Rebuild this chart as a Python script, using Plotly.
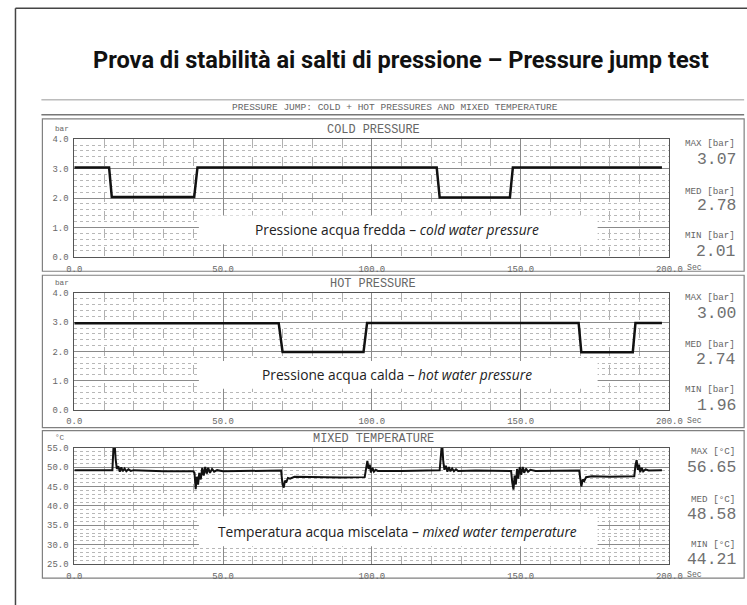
import plotly.graph_objects as go

W, H = 747, 605

# ---------------- data ----------------
time_cold = [0, 11.7, 12.6, 40.3, 41.4, 121.8, 122.8, 146.4, 147.4, 197.5]
cold_bar = [3.04, 3.04, 2.03, 2.03, 3.04, 3.04, 2.02, 2.02, 3.04, 3.04]

time_hot = [0, 68.7, 70.0, 97.2, 98.4, 169.5, 170.4, 187.7, 188.6, 197.5]
hot_bar = [2.97, 2.97, 1.98, 1.98, 2.98, 2.98, 1.97, 1.97, 2.98, 2.98]

time_mix = [0, 12.8, 13.2, 13.5, 13.9, 14.3, 14.8, 15.3, 15.8, 16.3, 16.9, 17.5, 18.2, 19, 20, 25, 30,
            40, 40.4, 40.8, 41.2, 41.6, 42, 42.5, 43, 43.5, 44, 44.5, 45, 45.6, 46.3, 47, 48, 50, 60,
            69.5, 70, 70.4, 70.8, 71.2, 71.8, 72.5, 74, 80, 90,
            97.6, 98.1, 98.5, 98.9, 99.3, 99.7, 100.2, 100.7, 101.3, 102, 110,
            122.8, 123.2, 123.6, 124, 124.4, 124.9, 125.4, 125.9, 126.4, 127, 127.6, 128.3, 129, 135,
            146.8, 147.2, 147.6, 148, 148.4, 148.8, 149.2, 149.7, 150.2, 150.7, 151.2, 151.8, 152.5, 153.3, 155,
            169.7, 170.1, 170.4, 170.9, 171.4, 172, 174, 180,
            188.2, 188.6, 189, 189.4, 189.8, 190.2, 190.7, 191.2, 192, 193, 197.5]
mix_temp = [49.2, 49.2, 55.5, 56.65, 52.0, 49.5, 50.2, 48.8, 49.9, 48.9, 49.6, 48.9, 49.4, 49.0, 49.2, 49.0, 48.9,
            48.9, 48.5, 44.3, 47.5, 45.5, 48.5, 46.8, 49.8, 47.8, 50.0, 48.3, 49.8, 48.5, 49.5, 48.8, 49.2, 48.9, 49.0,
            49.1, 45.5, 44.7, 46.5, 46.0, 47.2, 47.0, 47.5, 47.4, 47.3,
            47.4, 50.5, 51.6, 49.5, 50.6, 48.6, 49.8, 48.8, 49.3, 49.0, 49.0,
            49.2, 54.0, 56.5, 51.5, 49.3, 50.3, 48.8, 50.0, 48.9, 49.6, 48.9, 49.4, 49.0, 49.1,
            49.0, 46.0, 44.2, 47.8, 45.5, 49.5, 47.0, 50.0, 48.0, 50.0, 48.5, 49.6, 48.8, 49.3, 49.0,
            49.1, 46.0, 45.0, 46.8, 46.4, 47.4, 47.6, 47.5,
            47.6, 50.5, 51.8, 49.3, 50.6, 48.7, 49.8, 48.9, 49.4, 49.1, 49.2]

panel_titles = ["COLD PRESSURE", "HOT PRESSURE", "MIXED TEMPERATURE"]
units = ["bar", "bar", "°C"]
stat_units = ["[bar]", "[bar]", "[°C]"]
stat_max = ["3.07", "3.00", "56.65"]
stat_med = ["2.78", "2.74", "48.58"]
stat_min = ["2.01", "1.96", "44.21"]
captions = ["Pressione acqua fredda – <i>cold water pressure</i>",
            "Pressione acqua calda – <i>hot water pressure</i>",
            "Temperatura acqua miscelata – <i>mixed water temperature</i>"]
y_ranges = [[0, 4], [0, 4], [25, 55]]
y_dticks = [1, 1, 5]
y_minor = [0.2, 0.2, 1]

main_title = "Prova di stabilità ai salti di pressione – Pressure jump test"
header = "PRESSURE JUMP: COLD + HOT PRESSURES AND MIXED TEMPERATURE"

# ---------------- layout geometry (target pixels) ----------------
plot_x0, plot_x1 = 73, 670
plot_tops = [139.5, 294, 449]
plot_bots = [257.5, 411, 566]
panel_boxes = [(119, 272), (276, 429), (432, 580)]
caption_boxes = [(216, 245), (362, 390), (518, 548)]

# compensation for the capture scale/offset observed in the rendered page
AX, BX = 0.975, 6.5
AY, BY = 0.987, 3.8


def px(x):
    return ((x - BX) / AX) / W


def py(y):
    return 1 - ((y - BY) / AY) / H


def fs(s):
    return s / AX


MONO = "Liberation Mono"
GRAY = "#666666"

fig = go.Figure()
series = [(time_cold, cold_bar), (time_hot, hot_bar), (time_mix, mix_temp)]
widths = [2.5, 2.5, 2.0]
for i, (t, v) in enumerate(series):
    xa = "x" if i == 0 else f"x{i+1}"
    ya = "y" if i == 0 else f"y{i+1}"
    fig.add_trace(go.Scatter(x=t, y=v, mode="lines", xaxis=xa, yaxis=ya,
                             line=dict(color="#111111", width=widths[i]), showlegend=False,
                             hoverinfo="skip"))

axis_font = dict(family=MONO, size=fs(8.7), color=GRAY)
shapes = []
annotations = []
for i in range(3):
    sfx = "" if i == 0 else str(i + 1)
    fig.layout["xaxis" + sfx] = dict(
        domain=[px(plot_x0), px(plot_x1)], anchor="y" + sfx, range=[0, 200],
        tickmode="linear", tick0=0, dtick=50, tickformat=".1f",
        showgrid=True, gridcolor="#8a8a8a", gridwidth=1,
        minor=dict(tickmode="linear", tick0=0, dtick=10, showgrid=True,
                   gridcolor="#b0b0b0", griddash="dash", gridwidth=1),
        showline=True, linecolor="#555555", linewidth=1, mirror=True,
        ticks="", tickfont=axis_font, zeroline=False, ticklabelstandoff=3,
        fixedrange=True)
    fig.layout["yaxis" + sfx] = dict(
        domain=[py(plot_bots[i]), py(plot_tops[i])], anchor="x" + sfx, range=y_ranges[i],
        tickmode="linear", tick0=0, dtick=y_dticks[i], tickformat=".1f",
        showgrid=True, gridcolor="#8a8a8a", gridwidth=1,
        minor=dict(tickmode="linear", tick0=0, dtick=y_minor[i], showgrid=True,
                   gridcolor="#b8b8b8", griddash="dot", gridwidth=1),
        showline=True, linecolor="#555555", linewidth=1, mirror=True,
        ticks="", tickfont=axis_font, zeroline=False, ticklabelstandoff=3,
        fixedrange=True)

    # panel frame
    t0, t1 = panel_boxes[i]
    shapes.append(dict(type="rect", xref="paper", yref="paper", x0=px(41), x1=px(745),
                       y0=py(t1), y1=py(t0), line=dict(color="#808080", width=1.2),
                       fillcolor="rgba(0,0,0,0)", layer="below"))
    # caption white box
    c0, c1 = caption_boxes[i]
    shapes.append(dict(type="rect", xref="paper", yref="paper", x0=px(198), x1=px(598),
                       y0=py(c1), y1=py(c0), line=dict(width=0), fillcolor="white",
                       layer="above"))
    annotations.append(dict(text=captions[i], xref="paper", yref="paper",
                            x=px(397), y=py((c0 + c1) / 2), showarrow=False,
                            xanchor="center", yanchor="middle",
                            font=dict(family="Open Sans", size=fs(13.4), color="#222222")))
    # panel title
    annotations.append(dict(text=panel_titles[i], xref="paper", yref="paper",
                            x=px(373), y=py(plot_tops[i] - 9), showarrow=False,
                            xanchor="center", yanchor="middle",
                            font=dict(family=MONO, size=fs(11.6), color=GRAY)))
    # unit label
    annotations.append(dict(text=units[i], xref="paper", yref="paper",
                            x=px(52), y=py(plot_tops[i] - 10), showarrow=False,
                            xanchor="left", yanchor="middle",
                            font=dict(family=MONO, size=fs(7.5), color=GRAY)))
    # "Sec" unit after the last x tick
    annotations.append(dict(text="Sec", xref="x" + sfx, yref="paper",
                            x=200, y=py(plot_bots[i] + 10.5), showarrow=False,
                            xanchor="left", yanchor="middle", xshift=16,
                            font=dict(family=MONO, size=fs(8), color=GRAY)))
    # stats
    top = plot_tops[i]
    for lab, val, dy_l, dy_v in [("MAX", stat_max[i], 4, 20), ("MED", stat_med[i], 52, 67),
                                 ("MIN", stat_min[i], 97, 112.5)]:
        annotations.append(dict(text=f"{lab} {stat_units[i]}", xref="paper", yref="paper",
                                x=px(738), y=py(top + dy_l), showarrow=False,
                                xanchor="right", yanchor="middle",
                                font=dict(family=MONO, size=fs(9), color=GRAY)))
        annotations.append(dict(text=val, xref="paper", yref="paper",
                                x=px(739), y=py(top + dy_v), showarrow=False,
                                xanchor="right", yanchor="middle",
                                font=dict(family=MONO, size=fs(16), color="#707070")))

# outer border and header lines
shapes.append(dict(type="line", xref="paper", yref="paper", x0=px(14), x1=px(14),
                   y0=py(8), y1=py(640), line=dict(color="#444444", width=1.5)))
shapes.append(dict(type="line", xref="paper", yref="paper", x0=px(14), x1=px(780),
                   y0=py(8), y1=py(8), line=dict(color="#444444", width=1.5)))
shapes.append(dict(type="line", xref="paper", yref="paper", x0=px(40), x1=px(745),
                   y0=py(100), y1=py(100), line=dict(color="#999999", width=1)))
shapes.append(dict(type="line", xref="paper", yref="paper", x0=px(40), x1=px(745),
                   y0=py(115), y1=py(115), line=dict(color="#777777", width=1.5)))

annotations.append(dict(text=f"<b>{main_title}</b>", xref="paper", yref="paper",
                        x=px(401), y=py(60), showarrow=False, xanchor="center", yanchor="middle",
                        font=dict(family="Roboto", size=fs(23.0), color="#111111")))
annotations.append(dict(text=header, xref="paper", yref="paper",
                        x=px(395), y=py(107.5), showarrow=False, xanchor="center", yanchor="middle",
                        font=dict(family=MONO, size=fs(9.3), color=GRAY)))

fig.update_layout(width=W, height=H, autosize=False,
                  margin=dict(l=0, r=0, t=0, b=0),
                  paper_bgcolor="white", plot_bgcolor="white",
                  shapes=shapes, annotations=annotations, showlegend=False)

fig.write_html("out.html", config={"displayModeBar": False},
               post_script="document.body.style.margin='0px';document.body.style.overflow='hidden';")
